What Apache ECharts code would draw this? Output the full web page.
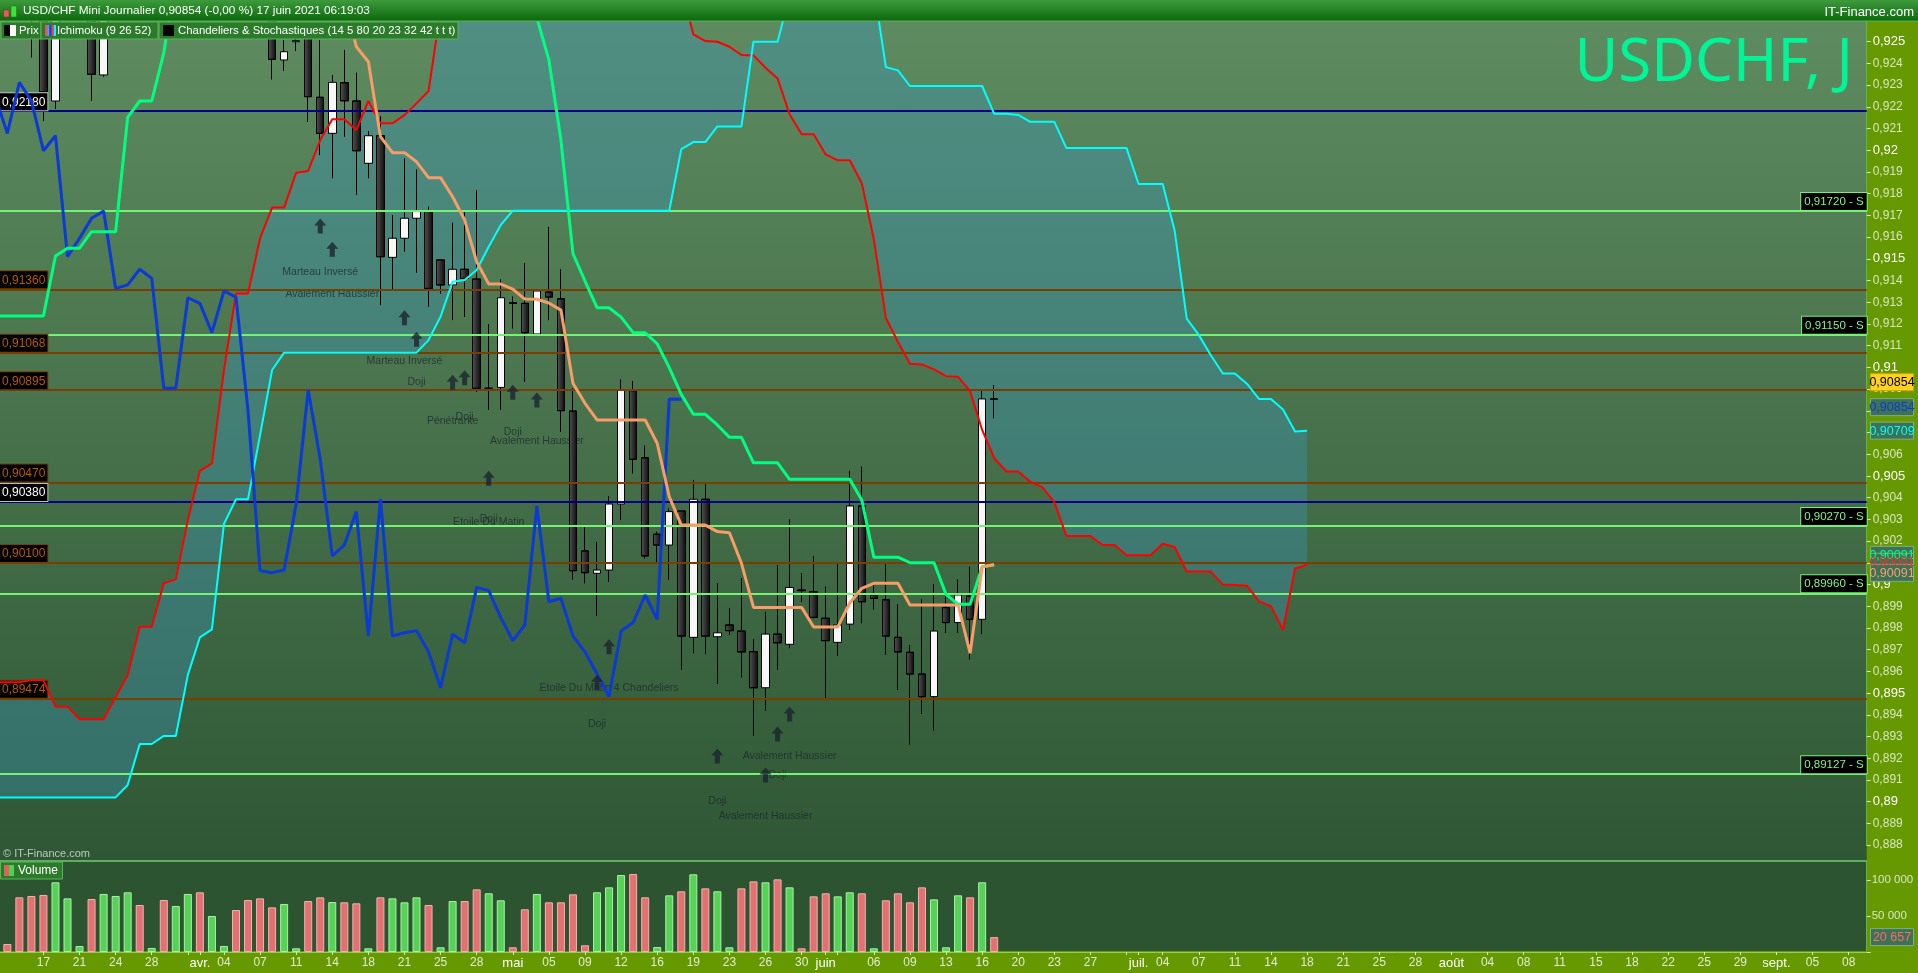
<!DOCTYPE html>
<html><head><meta charset="utf-8">
<script src="https://cdn.jsdelivr.net/npm/echarts@6.0.0/dist/echarts.min.js"></script>
<style>html,body{margin:0;padding:0;background:#2d5532;overflow:hidden;width:1918px;height:973px;position:relative}#c{position:absolute;left:-12px;top:0;width:1930px;height:973px}</style>
</head><body><div id="c"></div>
<script>
// ---------- DATA ----------
const START_DATE = '2021-03-12';
const NUM_CATEGORIES = 156;

const opens = [0.9290,0.9305,0.9300,0.9278,0.9275,0.92227,0.9275,0.9288,0.9290,0.92347,0.9300,
0.9340,0.9405,0.9388,0.9392,0.9385,0.9430,0.9445,0.9405,0.9408,0.9412,
0.9350,0.9305,0.9275,0.92416,0.9250,0.9253,0.92244,0.92078,0.92311,0.92227,
0.9194,0.92067,0.91507,0.91595,0.91687,0.9172,0.91495,0.9138,0.91452,0.91407,
0.90904,0.90908,0.91298,0.91295,0.91154,0.91347,0.91316,0.90799,0.90155,0.90052,
0.90067,0.90371,0.90893,0.90584,0.90232,0.90182,0.90339,0.89757,0.90393,0.8976,
0.89814,0.89786,0.89691,0.89525,0.89772,0.89725,0.89975,0.89967,0.89845,0.89734,
0.89818,0.90362,0.89952,0.8993,0.89757,0.89688,0.89588,0.89484,0.89894,0.89825,
0.89947,0.8984,0.90855];
const closes = [0.9305,0.9300,0.9275,0.9268,0.9227,0.9275,0.9290,0.9292,0.9235,0.9300,0.9340,
0.9405,0.9390,0.9392,0.9385,0.9430,0.9445,0.9405,0.9410,0.9412,0.9350,
0.9305,0.9275,0.92419,0.92454,0.92505,0.92247,0.92078,0.92313,0.92228,0.91998,
0.92067,0.9151,0.91595,0.91687,0.9172,0.91364,0.9138,0.91452,0.9141,0.90904,
0.90905,0.91321,0.91295,0.9116,0.91352,0.91324,0.90801,0.90064,0.90055,0.90067,
0.90371,0.90896,0.90577,0.90132,0.90182,0.90336,0.89763,0.90393,0.89763,0.89778,
0.89788,0.8969,0.89525,0.89772,0.89732,0.89987,0.89972,0.89849,0.89742,0.89814,
0.90362,0.89921,0.89937,0.89763,0.8969,0.89588,0.89484,0.89786,0.89825,0.89952,
0.8984,0.90855,0.90854];
const lows = [0.9285,0.9296,0.9270,0.92428,0.92136,0.9219,0.9265,0.9286,0.92228,0.92339,0.9290,
0.9330,0.9375,0.9385,0.9372,0.9380,0.9420,0.9395,0.9390,0.9405,0.9340,
0.9295,0.9268,0.92327,0.92366,0.92457,0.92132,0.91978,0.91871,0.92063,0.91794,
0.91871,0.91287,0.91357,0.91533,0.91436,0.9128,0.91341,0.91218,0.91234,0.90888,
0.90804,0.90804,0.9118,0.90934,0.9115,0.91218,0.90704,0.90024,0.90006,0.89855,
0.90013,0.90297,0.90512,0.90121,0.90105,0.90021,0.89607,0.89683,0.8968,0.89542,
0.89768,0.89573,0.89304,0.89419,0.89607,0.89707,0.89921,0.89845,0.89472,0.89671,
0.89791,0.89822,0.89886,0.89676,0.89515,0.89264,0.89404,0.89327,0.89778,0.89778,
0.89656,0.89772,0.90766];
const highs = [0.9312,0.9308,0.9315,0.9290,0.9285,0.9282,0.9300,0.9296,0.9298,0.9310,0.9355,
0.9415,0.9420,0.9395,0.9410,0.9440,0.9472,0.9450,0.9420,0.9415,0.9418,
0.9360,0.9315,0.9280,0.92508,0.9252,0.9258,0.92508,0.92347,0.92462,0.92357,
0.92089,0.92158,0.91702,0.91963,0.91912,0.9174,0.91495,0.91667,0.91717,0.91817,
0.912,0.91406,0.91326,0.9148,0.91355,0.91647,0.91452,0.90904,0.9027,0.90197,
0.90408,0.90945,0.90937,0.9064,0.90243,0.90351,0.90339,0.90482,0.90469,0.90006,
0.89891,0.90029,0.89748,0.89875,0.9009,0.90301,0.90052,0.90132,0.8999,0.9010,
0.90524,0.90543,0.90006,0.90098,0.8991,0.89722,0.89932,0.90003,0.89947,0.90024,
0.90082,0.90893,0.90919];
const volumes = [70000,11100,75900,77800,79200,96800,74500,8300,73600,80600,77800,
82900,65300,5600,72200,63900,80600,82900,50000,8300,58300,
72200,74500,62000,66700,5100,70800,75900,69400,69000,67600,
5100,75900,74500,69000,75900,65300,6500,70800,70800,87000,
81500,71800,6500,59300,80600,69000,69000,80100,9300,82900,
89800,106900,108300,75900,6900,78700,84300,107900,88400,84300,
6500,88400,98100,96800,100900,89800,5100,77300,81500,77300,
82900,81500,5100,71800,81500,69000,89800,73100,6500,78700,
75900,96800,20657];

// Ichimoku lines (values above the pane are out of view)
const tenkan = [0.9286,0.92857,0.93049,0.93049,0.92949,0.92941,0.92699,0.92699,0.92699,0.92807,0.92921,0.93134,
0.9330,0.9340,0.9355,0.9365,0.9375,0.9380,0.9385,0.9385,0.9385,0.9380,0.9370,0.9360,0.9350,0.9340,0.9320,0.9300,0.9285,0.9270,
0.92477,0.92408,0.92063,0.91989,0.91989,0.91947,0.91874,0.91874,0.91786,0.91679,0.91486,0.91384,0.91384,0.91361,0.91315,0.91314,0.91297,0.91264,
0.90927,0.90835,0.90758,0.90758,0.90758,0.90758,0.90758,0.90651,0.90405,0.90274,0.90274,0.90274,0.90244,0.90239,
0.90098,0.89895,0.89895,0.89895,0.89895,0.89895,0.89805,0.89805,0.89805,0.89915,0.89983,0.90006,0.90006,0.90006,0.89906,0.89906,0.89906,0.89906,0.89906,0.89684,0.90082,0.90091];
const kijun = [0.91237,0.91237,0.91237,0.91237,0.91237,0.91513,0.91549,0.91549,0.91625,0.91625,0.91625,0.92152,0.92227,0.92227,0.92449,
0.9280,0.9290,0.9300,0.9305,0.9310,0.9315,0.9320,0.9320,0.9320,0.9320,0.9315,0.9310,0.9305,0.9300,0.9300,0.9300,0.9300,
0.9300,0.9300,0.9300,0.9300,0.9300,0.9300,0.9300,0.9298,0.9285,0.9276,0.9276,0.9262,0.9262,0.9261,
0.92416,0.92047,0.91524,0.91398,0.91275,0.91275,0.91232,0.9116,0.9116,0.91109,0.90999,0.90876,0.90784,0.90784,0.90735,0.90678,0.90678,0.90561,0.90561,0.90561,
0.90485,0.90485,0.90485,0.90485,0.90485,0.90485,0.9039,0.90126,0.90126,0.90126,0.90101,0.90101,0.90101,0.89955,0.89909,0.89909,0.90082,0.90091];
const senkouA = [0.8955,0.8955,0.8955,0.8956,0.8956,0.89438,0.89438,0.8938,0.8938,0.8938,0.89481,
0.89584,0.89806,0.89806,0.90006,0.90024,0.90297,0.90524,0.90558,0.90988,0.91341,
0.91341,0.91595,0.91736,0.91736,0.91897,0.91905,0.92047,0.92143,0.92143,0.92093,
0.92227,0.92124,0.92124,0.92162,0.92216,0.92273,0.92643,
0.9275,0.9285,0.9292,0.9298,0.9305,0.9310,0.9315,0.9320,0.9322,0.9322,0.9320,0.9315,0.9310,0.9305,0.9300,0.9295,0.9290,0.9285,0.9280,0.9275,
0.92534,0.92503,0.925,0.92477,0.92439,0.92437,0.9238,0.92331,0.92166,0.92074,
0.92074,0.91981,0.91954,0.91954,0.91848,0.9159,0.91228,0.91118,0.91017,0.91014,
0.90991,0.9096,0.90957,0.90891,0.90712,0.90583,0.90521,0.90521,0.90474,0.90449,
0.9038,0.90224,0.90224,0.90224,0.90182,0.90182,0.90135,0.90135,0.90135,0.90188,
0.90173,0.9006,0.9006,0.9006,0.9,0.89998,0.89995,0.89923,0.89901,0.89792,
0.90074,0.90091];
const senkouB = [0.8902,0.8902,0.8902,0.8902,0.8902,0.8902,0.8902,0.8902,0.8902,0.8902,0.8902,
0.89077,0.89266,0.89266,0.89303,0.89303,0.89584,0.89757,0.89794,0.90279,0.90393,0.90393,0.90689,0.90988,
0.91068,0.91068,0.91068,0.91068,0.91068,0.91068,0.91068,0.91068,0.91068,0.91068,0.91068,0.91068,
0.91126,0.91234,0.91395,0.91403,0.91449,0.91556,0.91656,
0.91722,0.91722,0.91722,0.91722,0.91722,0.91722,0.91722,0.91722,0.91722,0.91722,0.91722,0.91722,0.91722,0.91722,
0.92005,0.92038,0.92038,0.9211,0.9211,0.9211,0.925,0.925,0.925,
0.9271,0.9285,0.9300,0.9305,0.9305,0.9300,0.9290,0.9275,
0.92383,0.92368,
0.92296,0.92296,0.92296,0.92296,0.92296,0.92296,0.92296,
0.92168,0.92168,0.92163,0.92131,0.92131,0.92131,0.9201,0.9201,0.9201,0.9201,0.9201,0.9201,
0.91845,0.91845,0.91845,0.91629,0.91225,0.9115,0.91056,0.90972,0.90972,0.90925,0.90855,0.90855,0.90806,0.90705,0.90709];
const chikou = [0.92247,0.92078,0.92313,0.92228,0.91998,0.92067,0.9151,0.91595,0.91687,0.9172,0.91364,
0.9138,0.91452,0.9141,0.90904,0.90905,0.91321,0.91295,0.9116,0.91352,0.91324,
0.90801,0.90064,0.90055,0.90067,0.90371,0.90896,0.90577,0.90132,0.90182,0.90336,
0.89763,0.90393,0.89763,0.89778,0.89788,0.8969,0.89525,0.89772,0.89732,0.89987,
0.89972,0.89849,0.89742,0.89814,0.90362,0.89921,0.89937,0.89763,0.8969,0.89588,
0.89484,0.89786,0.89825,0.89952,0.8984,0.90855,0.90854];

// Horizontal levels
const supportLevels = [0.91720, 0.91150, 0.90270, 0.89960, 0.89127];
const brownLevels = [0.91360, 0.91068, 0.90895, 0.90470, 0.90100, 0.89474];
const navyLevels = [0.92180, 0.90380];

// Candle pattern annotations: [date, price]
const arrowPoints = [['2021-04-13',0.91651],['2021-04-14',0.91544],['2021-04-21',0.91229],['2021-04-22',0.9113],['2021-04-26',0.90932],['2021-04-27',0.90953],['2021-04-29',0.9049],['2021-05-02',0.90886],['2021-05-04',0.9085],['2021-05-10',0.8955],['2021-05-11',0.89714],['2021-05-21',0.89211],['2021-05-26',0.89123],['2021-05-27',0.89312],['2021-05-28',0.89404]];
const patternLabels = [['2021-04-13',0.91441,'Marteau Inversé'],['2021-04-14',0.91338,'Avalement Haussier'],['2021-04-21',0.91031,'Marteau Inversé'],['2021-04-22',0.90934,'Doji'],['2021-04-26',0.90755,'Pénétrante'],['2021-04-27',0.9077,'Doji'],['2021-05-02',0.907,'Doji'],['2021-05-04',0.90663,'Avalement Haussier'],['2021-04-29',0.9029,'Etoile Du Matin'],['2021-04-29',0.90301,'Doji'],['2021-05-11',0.89525,'Etoile Du Matin 4 Chandeliers'],['2021-05-10',0.89357,'Doji'],['2021-05-28',0.89212,'Avalement Haussier'],['2021-05-27',0.89123,'Doji'],['2021-05-21',0.89005,'Doji'],['2021-05-26',0.88936,'Avalement Haussier']];

// Time axis tick labels
const tickLabels = [["2021-03-17","17"],["2021-03-21","21"],["2021-03-24","24"],["2021-03-28","28"],["2021-03-31",""],["2021-04-01","avr."],["2021-04-04","04"],["2021-04-07","07"],["2021-04-11","11"],["2021-04-14","14"],["2021-04-18","18"],["2021-04-21","21"],["2021-04-25","25"],["2021-04-28","28"],["2021-05-02","mai"],["2021-05-05","05"],["2021-05-09","09"],["2021-05-12","12"],["2021-05-16","16"],["2021-05-19","19"],["2021-05-23","23"],["2021-05-26","26"],["2021-05-30","30"],["2021-06-01","juin"],["2021-06-02",""],["2021-06-06","06"],["2021-06-09","09"],["2021-06-13","13"],["2021-06-16","16"],["2021-06-20","20"],["2021-06-23","23"],["2021-06-27","27"],["2021-06-30",""],["2021-07-01","juil."],["2021-07-04","04"],["2021-07-07","07"],["2021-07-11","11"],["2021-07-14","14"],["2021-07-18","18"],["2021-07-21","21"],["2021-07-25","25"],["2021-07-28","28"],["2021-08-01","août"],["2021-08-04","04"],["2021-08-08","08"],["2021-08-11","11"],["2021-08-15","15"],["2021-08-18","18"],["2021-08-22","22"],["2021-08-25","25"],["2021-08-29","29"],["2021-09-01","sept."],["2021-09-05","05"],["2021-09-08","08"]];

// ---------- BUILD ----------
const categories = [];
{
  const d = new Date(START_DATE + 'T00:00:00Z');
  while (categories.length < NUM_CATEGORIES) {
    if (d.getUTCDay() !== 6) categories.push(d.toISOString().slice(0, 10));
    d.setUTCDate(d.getUTCDate() + 1);
  }
}
const labelMap = {};
tickLabels.forEach(([d, t]) => { labelMap[d] = t; });

const fmtPrice = v => v.toFixed(3).replace(/0+$/, '').replace(/\.$/, '').replace('.', ',');
const fmtLevel = v => v.toFixed(5).replace('.', ',');
const fmtVol = v => String(Math.round(v)).replace(/\B(?=(\d{3})+(?!\d))/g, ' ');

// the chart canvas is shifted 12px left of the page so the first (Mar 12) bar sits half outside
const OX = 12;
const PX_PER_UNIT = 21715;
const Y_MIN = 0.888, Y_MAX = 0.926;
const priceTop = 20, priceHeight = (Y_MAX - Y_MIN) * PX_PER_UNIT;
const gridLeft = 1.28, gridRight = 51.3;

const cloudBase = senkouA.map((a, i) => Math.min(a, senkouB[i]));
const cloudSpan = senkouA.map((a, i) => Math.abs(a - senkouB[i]));

const bearFill = {type: 'linear', x: 0, y: 0, x2: 1, y2: 0, colorStops: [{offset: 0, color: '#555555'}, {offset: 1, color: '#0a0a0a'}]};

const levelItems = [];
navyLevels.forEach(v => levelItems.push({yAxis: v, lineStyle: {color: '#000088', width: 2, type: 'solid'},
  label: {show: true, position: 'insideStartTop', distance: [OX - 1.28, 1], formatter: fmtLevel(v), color: '#ffffff', backgroundColor: '#000000', borderColor: '#bdbdbd', borderWidth: 1, padding: [3, 2, 2, 2], fontSize: 12}}));
brownLevels.forEach(v => levelItems.push({yAxis: v, lineStyle: {color: '#7a3e00', width: 2, type: 'solid'},
  label: {show: true, position: 'insideStartTop', distance: [OX - 1.28, 1], formatter: fmtLevel(v), color: '#b85a00', backgroundColor: '#000000', borderColor: '#7a3e00', borderWidth: 1, padding: [3, 2, 2, 2], fontSize: 12}}));
supportLevels.forEach(v => levelItems.push({yAxis: v, lineStyle: {color: '#74f274', width: 2, type: 'solid'},
  label: {show: true, position: 'insideEndTop', distance: [0, 1], formatter: fmtLevel(v) + ' - S', color: '#86f586', backgroundColor: '#000000', borderColor: '#74f274', borderWidth: 1, padding: [3, 3, 2, 3], fontSize: 11.5}}));

const FONT = 'Liberation Sans, Arial, sans-serif';

function staticGraphics() {
  const els = [];
  const R = (x, y, w, h, style, z) => els.push({type: 'rect', z: z, silent: true, shape: {x: x + OX, y: y, width: w, height: h}, style: style});
  const T = (text, x, y, font, fill, align, z) => els.push({type: 'text', z: z, silent: true, style: {text: text, x: x + OX, y: y, fill: fill, font: font, textAlign: align || 'left', textVerticalAlign: 'middle'}});
  R(0, 21, 1867, 840, {fill: {type: 'linear', x: 0, y: 0, x2: 0, y2: 1, colorStops: [{offset: 0, color: '#5e8b60'}, {offset: 1, color: '#2f5735'}]}}, -100);
  R(0, 861, 1867, 90, {fill: '#2c5431'}, -100);
  R(1866.7, 21, 52, 952, {fill: '#669900'}, -99);
  R(0, 951, 1918, 22, {fill: '#669900'}, -99);
  R(0, 860, 1867, 2, {fill: '#5fae5f'}, -98);
  // header
  R(0, 0, 1918, 21, {fill: {type: 'linear', x: 0, y: 0, x2: 0, y2: 1, colorStops: [{offset: 0, color: '#3d9b3d'}, {offset: 1, color: '#0b690b'}]}}, 90);
  R(0, 20.5, 1918, 1, {fill: '#56b456'}, 90);
  R(3.5, 10, 5.5, 7, {fill: '#e85a5a', stroke: '#7a2020', lineWidth: 0.5}, 91);
  R(11, 6, 5.5, 11, {fill: '#3ee03e', stroke: '#1a701a', lineWidth: 0.5}, 91);
  T('USD/CHF Mini Journalier 0,90854 (-0,00 %) 17 juin 2021 06:19:03', 23, 11, '11.8px ' + FONT, '#ffffff', 'left', 92);
  T('IT-Finance.com', 1914, 12, '13px ' + FONT, '#ffffff', 'right', 92);
  // legend row
  [[1, 40], [41, 117], [159, 299]].forEach(([x, w]) => R(x, 22, w, 17, {fill: '#2b7b2b', stroke: '#5cb35c', lineWidth: 1}, 90));
  R(4, 25, 6, 11, {fill: '#000'}, 91);
  R(10, 25, 6, 11, {fill: '#fff'}, 91);
  ['#ff4a4a', '#4aa0ff', '#2038ff', '#ff3a3a', '#00ffff'].forEach((c, i) => R(45 + i * 2.2, 25, 2.2, 11, {fill: c}, 91));
  R(163, 25, 11, 11, {fill: '#000'}, 91);
  [['Prix', 19], ['Ichimoku (9 26 52)', 57], ['Chandeliers & Stochastiques (14 5 80 20 23 32 42 t t t)', 178]].forEach(([t, x]) =>
    T(t, x, 31, '11.4px ' + FONT, '#ffffff', 'left', 92));
  // watermark
  T('USDCHF, J', 1853, 64, '60px Noto Sans, ' + FONT, '#00f596', 'right', -50);
  // copyright
  T('© IT-Finance.com', 3, 854, '11px ' + FONT, '#b7cdb7', 'left', 20);
  // volume legend
  R(0.5, 862, 62, 17, {fill: '#2b7b2b', stroke: '#5cb35c', lineWidth: 1}, 20);
  R(4, 865, 5, 11, {fill: '#e06060'}, 21);
  R(9, 865, 5, 11, {fill: '#4fd04f'}, 21);
  T('Volume', 18, 871, '12px ' + FONT, '#ffffff', 'left', 21);
  return els;
}

const option = {
  animation: false,
  textStyle: {fontFamily: FONT},
  grid: [
    {left: gridLeft, right: gridRight, top: priceTop, height: priceHeight},
    {left: gridLeft, right: gridRight, top: 862, height: 90}
  ],
  xAxis: [
    {type: 'category', gridIndex: 0, data: categories, boundaryGap: true,
      axisLine: {show: false}, axisTick: {show: false}, axisLabel: {show: false}, splitLine: {show: false}},
    {type: 'category', gridIndex: 1, data: categories, boundaryGap: true,
      axisLine: {show: true, lineStyle: {color: '#8fd05c', width: 1}},
      axisTick: {show: true, alignWithLabel: true, length: 3, interval: (i, v) => v in labelMap, lineStyle: {color: '#d5e6b8'}},
      axisLabel: {interval: (i, v) => v in labelMap, margin: 5, color: '#e2ebd2', fontSize: 12,
        formatter: v => { const t = labelMap[v] || ''; return /[a-zé]/.test(t) ? '{m|' + t + '}' : t; },
        rich: {m: {color: '#ffffff', fontSize: 13}}},
      splitLine: {show: false}}
  ],
  yAxis: [
    {type: 'value', gridIndex: 0, position: 'right', min: Y_MIN, max: Y_MAX, interval: 0.001,
      axisLine: {show: true, lineStyle: {color: '#5db35d', width: 1}},
      axisTick: {show: true, length: 4, lineStyle: {color: '#d5e6b8'}},
      splitLine: {show: false},
      axisLabel: {margin: 6,
        formatter: v => { if (v > 0.9255) return ''; const s = fmtPrice(v); return (Math.round(v * 1000) % 5 === 0) ? '{b|' + s + '}' : '{a|' + s + '}'; },
        rich: {a: {color: '#d9e5c3', fontSize: 12}, b: {color: '#ffffff', fontSize: 13}}}},
    {type: 'value', gridIndex: 1, position: 'right', min: 0, max: 125000, interval: 50000,
      axisLine: {show: true, lineStyle: {color: '#5db35d', width: 1}},
      axisTick: {show: true, length: 4, lineStyle: {color: '#d5e6b8'}},
      splitLine: {show: false},
      axisLabel: {margin: 5, color: '#d9e5c3', fontSize: 11.5, showMaxLabel: false, formatter: v => (v === 0 || v > 100000) ? '' : fmtVol(v)}}
  ],
  series: [
    {type: 'line', name: 'cloudBase', data: cloudBase, stack: 'cloud', symbol: 'none', lineStyle: {opacity: 0}, z: 1, silent: true},
    {type: 'line', name: 'cloud', data: cloudSpan, stack: 'cloud', symbol: 'none', lineStyle: {opacity: 0},
      areaStyle: {color: 'rgba(58,150,192,0.36)', opacity: 1}, z: 1, silent: true},
    {type: 'scatter', name: 'patterns', data: patternLabels.map(p => ({value: [p[0], p[1]], name: p[2]})),
      symbolSize: 1, itemStyle: {color: 'rgba(0,0,0,0)'}, z: 2, silent: true,
      label: {show: true, position: 'inside', formatter: '{b}', color: '#1e2a30', fontSize: 10.5}},
    {type: 'candlestick', name: 'Prix', data: opens.map((o, i) => [o, closes[i], lows[i], highs[i]]),
      barWidth: 8, clip: true, z: 3,
      itemStyle: {color: '#f7f7f7', color0: bearFill, borderColor: '#000000', borderColor0: '#000000', borderWidth: 1}},
    {type: 'line', name: 'Senkou A', data: senkouA, symbol: 'none', lineStyle: {color: '#ff0000', width: 2}, z: 5, silent: true},
    {type: 'line', name: 'Senkou B', data: senkouB, symbol: 'none', lineStyle: {color: '#00ffff', width: 2}, z: 5, silent: true,
      markLine: {silent: true, precision: 5, symbol: ['none', 'none'], animation: false, data: levelItems}},
    {type: 'line', name: 'Chikou', data: chikou, symbol: 'none', lineStyle: {color: '#0b3ad6', width: 3}, z: 5, silent: true},
    {type: 'line', name: 'Kijun', data: kijun, symbol: 'none', lineStyle: {color: '#00ff80', width: 3}, z: 5, silent: true},
    {type: 'line', name: 'Tenkan', data: tenkan, symbol: 'none', lineStyle: {color: '#f89c68', width: 3}, z: 5, silent: true},
    {type: 'scatter', name: 'arrows', data: arrowPoints, symbol: 'path://M6,0 L12,7 L8.5,7 L8.5,15 L3.5,15 L3.5,7 L0,7 Z',
      symbolSize: [12, 15], itemStyle: {color: '#1b2431'}, z: 6, silent: true},
    {type: 'bar', name: 'Volume', xAxisIndex: 1, yAxisIndex: 1, barWidth: 8, silent: true,
      data: volumes.map((v, i) => {
        const up = i === 0 ? closes[0] >= opens[0] : closes[i] >= closes[i - 1];
        return {value: v, itemStyle: up ? {color: '#57d257', borderColor: '#a8f2a8', borderWidth: 1} : {color: '#e27272', borderColor: '#f6b0b0', borderWidth: 1}};
      })}
  ],
  graphic: {elements: staticGraphics()}
};

const chart = echarts.init(document.getElementById('c'), null, {renderer: 'canvas'});
chart.setOption(option);

// value tags on the right axis, positioned through the axes' own scales
const yP = v => chart.convertToPixel({yAxisIndex: 0}, v);
const yV = v => chart.convertToPixel({yAxisIndex: 1}, v);
const last = a => a[a.length - 1];
const tagDefs = [
  {y: yP(last(kijun)) - 10, text: fmtLevel(last(kijun)), color: '#00ff80', bg: '#3d7257'},
  {y: yP(last(senkouA)) - 3, text: fmtLevel(last(senkouA)), color: '#ff2a2a', bg: '#3d7257'},
  {y: yP(last(tenkan)) + 8, text: fmtLevel(last(tenkan)), color: '#ff9e6a', bg: '#3d7257'},
  {y: yP(last(senkouB)), text: fmtLevel(last(senkouB)), color: '#00ffff', bg: '#3d7257'},
  {y: yP(last(chikou)) + 8, text: fmtLevel(last(chikou)), color: '#0b3ad6', bg: '#3d7257'},
  {y: yP(last(closes)) - 17, text: fmtLevel(last(closes)), color: '#000000', bg: '#ffd21f', border: '#d4a400'},
  {y: yV(last(volumes)), text: fmtVol(last(volumes)), color: '#ff6a6a', bg: '#3d7257'}
];
const tagEls = [];
tagDefs.forEach(t => {
  tagEls.push({type: 'rect', z: 95, silent: true, shape: {x: 1870.5 + OX, y: t.y - 8.5, width: 43, height: 17}, style: {fill: t.bg, stroke: t.border || '#7fae8a', lineWidth: 1}});
  tagEls.push({type: 'text', z: 96, silent: true, style: {text: t.text, x: 1892 + OX, y: t.y + 0.5, fill: t.color, font: '12.5px ' + FONT, textAlign: 'center', textVerticalAlign: 'middle'}});
});
chart.setOption({graphic: {elements: staticGraphics().concat(tagEls)}});
</script></body></html>
